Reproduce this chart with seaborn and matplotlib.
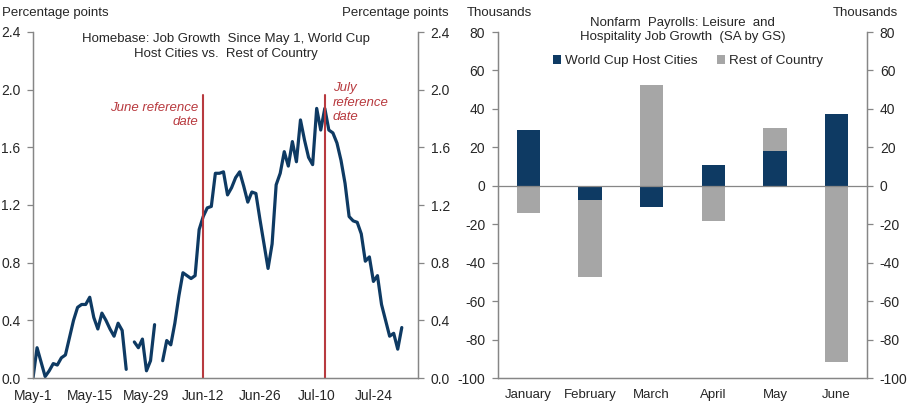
import numpy as np
import pandas as pd
import seaborn as sns
import matplotlib.pyplot as plt

# homebase job growth since May 1 (pp), one value per day from May 1, nan = no data
hb_values = [0.00, 0.21, 0.11, 0.01, 0.05, 0.10, 0.09, 0.14, 0.16, 0.28,
             0.40, 0.49, 0.51, 0.51, 0.56, 0.42, 0.34, 0.45, 0.40, 0.34,
             0.29, 0.38, 0.33, 0.06, np.nan, 0.25, 0.21, 0.27, 0.05, 0.12,
             0.37, np.nan, 0.12, 0.26, 0.23, 0.38, 0.57, 0.73, 0.71, 0.69,
             0.71, 1.03, 1.12, 1.18, 1.19, 1.42, 1.42, 1.43, 1.27, 1.32,
             1.39, 1.43, 1.33, 1.22, 1.29, 1.28, 1.10, 0.93, 0.76, 0.93,
             1.34, 1.42, 1.57, 1.47, 1.64, 1.50, 1.79, 1.65, 1.53, 1.48,
             1.87, 1.72, 1.87, 1.72, 1.70, 1.63, 1.51, 1.35, 1.12, 1.09,
             1.08, 1.00, 0.81, 0.84, 0.67, 0.71, 0.51, 0.40, 0.29, 0.31,
             0.20, 0.35]
start_date = "2018-05-01"
ref_dates = ["2018-06-12", "2018-07-12"]
date_ticks = ["2018-05-01", "2018-05-15", "2018-05-29", "2018-06-12",
              "2018-06-26", "2018-07-10", "2018-07-24"]
date_labels = ["May-1", "May-15", "May-29", "Jun-12", "Jun-26", "Jul-10", "Jul-24"]

# nonfarm payrolls, leisure & hospitality (thousands)
months = ["January", "February", "March", "April", "May", "June"]
host_cities = [29, -7.3, -10.9, 10.6, 18.2, 37.3]
rest_country = [-14, -40.4, 52.5, -18.2, 12.1, -91.9]

navy = "#0E3A63"
grey = "#A6A6A6"
red = "#B83A3F"
spine = "#868686"

sns.set_style("white")
plt.rcParams["font.family"] = ["Liberation Sans", "DejaVu Sans"]
plt.rcParams["font.size"] = 9.5
plt.rcParams["axes.unicode_minus"] = False

fig = plt.figure(figsize=(9.15, 4.07), dpi=100)
ax1 = fig.add_axes([33/915, 29/407, 385/915, 346/407])
ax2 = fig.add_axes([497.7/915, 29/407, 369.6/915, 346/407])

# ---- left panel ----
hb = pd.DataFrame({"date": pd.date_range(start_date, periods=len(hb_values), freq="D"),
                   "val": hb_values})
hb["seg"] = hb["val"].isna().cumsum()
hb = hb.dropna()
sns.lineplot(data=hb, x="date", y="val", units="seg", estimator=None,
             color=navy, lw=2.3, ax=ax1)
for d in ref_dates:
    ax1.plot([pd.Timestamp(d)] * 2, [0, 1.96], color=red, lw=1.5)

ax1.set_xlim(pd.Timestamp(start_date), pd.Timestamp(start_date) + pd.Timedelta(days=95))
ax1.set_ylim(0, 2.4)
ax1.set_yticks(np.arange(0, 2.41, 0.4))
ax1.set_yticklabels([f"{v:.1f}" for v in np.arange(0, 2.41, 0.4)])
ax1.set_xticks(pd.to_datetime(date_ticks))
ax1.set_xticklabels(date_labels)
ax1.set_xlabel("")
ax1.set_ylabel("")
ax1r = ax1.twinx()
ax1r.set_ylim(0, 2.4)
ax1r.set_yticks(np.arange(0, 2.41, 0.4))
ax1r.set_yticklabels([f"{v:.1f}" for v in np.arange(0, 2.41, 0.4)])

ax1.text(0.5, 0.997, "Homebase: Job Growth  Since May 1, World Cup\nHost Cities vs.  Rest of Country",
         transform=ax1.transAxes, ha="center", va="top", linespacing=1.35)
ax1.text(pd.Timestamp(ref_dates[0]) - pd.Timedelta(days=1.2), 1.825, "June reference\ndate",
         color=red, style="italic", ha="right", va="center", linespacing=1.3)
ax1.text(pd.Timestamp(ref_dates[1]) + pd.Timedelta(days=2), 1.91, "July\nreference\ndate",
         color=red, style="italic", ha="left", va="center", linespacing=1.3)
fig.text(2/915, 1 - 13/407, "Percentage points", ha="left", va="center")
fig.text(449/915, 1 - 13/407, "Percentage points", ha="right", va="center")

# ---- right panel ----
x = np.arange(len(months))
host = np.array(host_cities)
rest = np.array(rest_country)
rest_end = np.where(np.sign(host) == np.sign(rest), host + rest, rest)
sns.barplot(x=x, y=rest_end, color=grey, width=0.38, saturation=1, ax=ax2,
            native_scale=True, label="Rest of Country", linewidth=0)
sns.barplot(x=x, y=host, color=navy, width=0.38, saturation=1, ax=ax2,
            native_scale=True, label="World Cup Host Cities", linewidth=0)
ax2.axhline(0, color=spine, lw=0.9)
ax2.set_xlim(-0.5, len(months) - 0.5)
ax2.set_ylim(-100, 80)
ax2.set_yticks(np.arange(-100, 81, 20))
ax2.set_xticks(np.arange(-0.5, len(months), 1.0))
ax2.set_xticklabels([])
ax2.set_xticks(x, minor=True)
ax2.set_xticklabels(months, minor=True)
ax2.tick_params(axis="x", which="minor", length=0, pad=8)
ax2r = ax2.twinx()
ax2r.set_ylim(-100, 80)
ax2r.set_yticks(np.arange(-100, 81, 20))

h, l = ax2.get_legend_handles_labels()
ax2.legend(h[::-1], l[::-1], loc="upper center", bbox_to_anchor=(0.515, 0.968), ncol=2,
           frameon=False, handlelength=0.6, handleheight=0.6, handletextpad=0.3,
           columnspacing=1.4, fontsize=9.7)
ax2.text(0.5, 1.043, "Nonfarm  Payrolls: Leisure  and\nHospitality Job Growth  (SA by GS)",
         transform=ax2.transAxes, ha="center", va="top", linespacing=1.25)
ax2.set_xlabel("")
ax2.set_ylabel("")
fig.text(467/915, 1 - 13/407, "Thousands", ha="left", va="center")
fig.text(898/915, 1 - 13/407, "Thousands", ha="right", va="center")

for a in [ax1, ax1r, ax2, ax2r]:
    a.spines["top"].set_visible(False)
    for s in ["left", "right", "bottom"]:
        a.spines[s].set_color(spine)
        a.spines[s].set_linewidth(0.9)
    a.tick_params(axis="both", which="major", length=4, width=0.9, color=spine,
                  labelsize=10, pad=5)
    a.grid(False)
ax2.tick_params(axis="x", which="major", length=4)
ax1.tick_params(axis="x", pad=4)

fig.savefig("out.png", dpi=100)
